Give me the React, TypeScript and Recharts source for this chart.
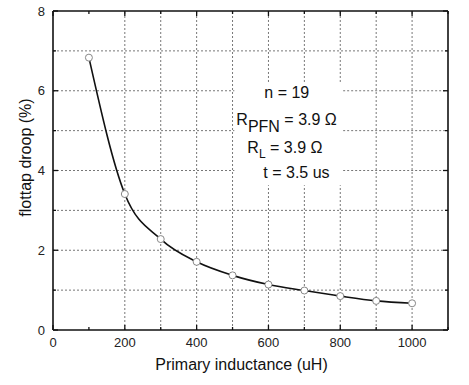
import React from "react";
import {
  LineChart,
  Line,
  XAxis,
  YAxis,
  ReferenceLine,
  ReferenceArea,
} from "recharts";

// primary inductance (uH) vs flattop droop (%)
const inductance = [100, 200, 300, 400, 500, 600, 700, 800, 900, 1000];
const droop = [6.83, 3.41, 2.28, 1.71, 1.37, 1.14, 0.99, 0.85, 0.73, 0.67];

const xTicks = [0, 100, 200, 300, 400, 500, 600, 700, 800, 900, 1000, 1100];
const yTicks = [0, 1, 2, 3, 4, 5, 6, 7, 8];
const xGrid = [200, 300, 400, 500, 600, 700, 800, 900, 1000];
const yGrid = [1, 2, 3, 4, 5, 6, 7];
const X_MAX = 1100;
const Y_MAX = 8;

// white panel behind the annotation (data units)
const BOX = { x1: 505, x2: 808, y1: 3.63, y2: 6.22 };

const W = 469;
const H = 385;
const MARGIN = { top: 11, right: 21, left: 0, bottom: 0 };
const Y_AXIS_W = 53;
const X_AXIS_H = 55;

const FONT = "'Liberation Sans', Arial, sans-serif";
const INK = "#111";

const data = inductance.map((l, i) => ({ l, droop: droop[i] }));

const isMajorX = (v: number) => v % 200 === 0 && v <= 1000;
const isMajorY = (v: number) => v % 2 === 0;

type Seg = { key: string; seg: { x: number; y: number }[] };

// ticks point inward, labels only on majors
function BottomTick(props: any) {
  const { x, y, payload } = props;
  const v = payload.value;
  const len = v % 200 === 0 ? 5 : 3;
  return (
    <g>
      <line x1={x} x2={x} y1={y} y2={y - len} stroke={INK} strokeWidth={1.3} />
      {isMajorX(v) && (
        <text x={x} y={y + 17} textAnchor="middle" fontSize={13} fill="#222" fontFamily={FONT}>
          {v}
        </text>
      )}
    </g>
  );
}

function LeftTick(props: any) {
  const { x, y, payload } = props;
  const v = payload.value;
  const len = isMajorY(v) ? 5 : 3;
  return (
    <g>
      <line x1={x} x2={x + len} y1={y} y2={y} stroke={INK} strokeWidth={1.3} />
      {isMajorY(v) && (
        <text x={x - 8} y={y + 4.5} textAnchor="end" fontSize={13} fill="#222" fontFamily={FONT}>
          {v}
        </text>
      )}
    </g>
  );
}

function Notes(props: any) {
  const vb = props.viewBox;
  if (!vb) return null;
  const { x, y } = vb;
  const t = { fontSize: 16, fill: INK, fontFamily: FONT };
  return (
    <g>
      <text x={x + 30} y={y + 16} {...t}>n = 19</text>
      <text x={x + 2} y={y + 43} {...t}>
        R
        <tspan dy={7}>PFN</tspan>
        <tspan dy={-7}> = 3.9 Ω</tspan>
      </text>
      <text x={x + 13} y={y + 71} {...t}>
        R
        <tspan dy={5} fontSize={12}>L</tspan>
        <tspan dy={-5}> = 3.9 Ω</tspan>
      </text>
      <text x={x + 29} y={y + 96} {...t}>t = 3.5 us</text>
    </g>
  );
}

// top/right frame with inward ticks, laid over the plot rect
function FrameOverlay() {
  const left = MARGIN.left + Y_AXIS_W;
  const right = W - MARGIN.right;
  const top = MARGIN.top;
  const bottom = H - MARGIN.bottom - X_AXIS_H;
  const px = (v: number) => left + (v / X_MAX) * (right - left);
  const py = (v: number) => bottom - (v / Y_MAX) * (bottom - top);
  return (
    <svg
      width={W}
      height={H}
      style={{ position: "absolute", left: 0, top: 0, pointerEvents: "none" }}
    >
      <line x1={left} x2={right} y1={top} y2={top} stroke={INK} strokeWidth={1.6} />
      <line x1={right} x2={right} y1={top} y2={bottom} stroke={INK} strokeWidth={1.6} />
      {xTicks.map((v) => (
        <line key={"t" + v} x1={px(v)} x2={px(v)} y1={top} y2={top + (v % 200 === 0 ? 5 : 3)} stroke={INK} strokeWidth={1.3} />
      ))}
      {yTicks.map((v) => (
        <line key={"r" + v} x1={right} x2={right - (isMajorY(v) ? 5 : 3)} y1={py(v)} y2={py(v)} stroke={INK} strokeWidth={1.3} />
      ))}
    </svg>
  );
}

const gridStyle = { stroke: "#777", strokeDasharray: "2 2", strokeWidth: 1 };

// grid segments, skipping the annotation panel
function gridSegments(): Seg[] {
  const segs: Seg[] = [];
  xGrid.forEach((v) => {
    if (v > BOX.x1 && v < BOX.x2) {
      segs.push({ key: `vx${v}a`, seg: [{ x: v, y: 0 }, { x: v, y: BOX.y1 }] });
      segs.push({ key: `vx${v}b`, seg: [{ x: v, y: BOX.y2 }, { x: v, y: Y_MAX }] });
    } else {
      segs.push({ key: `vx${v}`, seg: [{ x: v, y: 0 }, { x: v, y: Y_MAX }] });
    }
  });
  yGrid.forEach((v) => {
    if (v > BOX.y1 && v < BOX.y2) {
      segs.push({ key: `hy${v}a`, seg: [{ x: 0, y: v }, { x: BOX.x1, y: v }] });
      segs.push({ key: `hy${v}b`, seg: [{ x: BOX.x2, y: v }, { x: X_MAX, y: v }] });
    } else {
      segs.push({ key: `hy${v}`, seg: [{ x: 0, y: v }, { x: X_MAX, y: v }] });
    }
  });
  return segs;
}

export default function App() {
  return (
    <div style={{ position: "absolute", left: 0, top: 0, width: W, height: H, background: "#fff" }}>
      <LineChart width={W} height={H} data={data} margin={MARGIN}>
        {gridSegments().map((s) => (
          <ReferenceLine key={s.key} segment={s.seg} {...gridStyle} />
        ))}
        <ReferenceArea
          x1={BOX.x1}
          x2={BOX.x2}
          y1={BOX.y1}
          y2={BOX.y2}
          fill="#fff"
          fillOpacity={0}
          stroke="none"
          label={<Notes />}
        />
        <XAxis
          dataKey="l"
          type="number"
          domain={[0, X_MAX]}
          ticks={xTicks}
          interval={0}
          height={X_AXIS_H}
          tickSize={0}
          tickMargin={0}
          tickLine={false}
          axisLine={{ stroke: INK, strokeWidth: 1.6 }}
          tick={<BottomTick />}
          label={{
            content: (p: any) => {
              const vb = p.viewBox;
              return (
                <text
                  x={vb.x + vb.width / 2 - 9}
                  y={vb.y + 40}
                  textAnchor="middle"
                  fontSize={16}
                  fill={INK}
                  fontFamily={FONT}
                >
                  Primary inductance (uH)
                </text>
              );
            },
          }}
        />
        <YAxis
          type="number"
          domain={[0, Y_MAX]}
          ticks={yTicks}
          interval={0}
          width={Y_AXIS_W}
          tickSize={0}
          tickMargin={0}
          tickLine={false}
          axisLine={{ stroke: INK, strokeWidth: 1.6 }}
          tick={<LeftTick />}
          label={{
            content: (p: any) => {
              const vb = p.viewBox;
              const cx = vb.x + 25;
              const cy = vb.y + vb.height / 2 - 13;
              return (
                <text
                  x={cx}
                  y={cy}
                  transform={`rotate(-90 ${cx} ${cy})`}
                  textAnchor="middle"
                  dominantBaseline="central"
                  fontSize={16}
                  fill={INK}
                  fontFamily={FONT}
                >
                  flottap droop (%)
                </text>
              );
            },
          }}
        />
        <Line
          type="monotone"
          dataKey="droop"
          stroke={INK}
          strokeWidth={1.6}
          dot={{ r: 3.5, fill: "#fff", stroke: "#888", strokeWidth: 1 }}
          isAnimationActive={false}
        />
      </LineChart>
      <FrameOverlay />
    </div>
  );
}
